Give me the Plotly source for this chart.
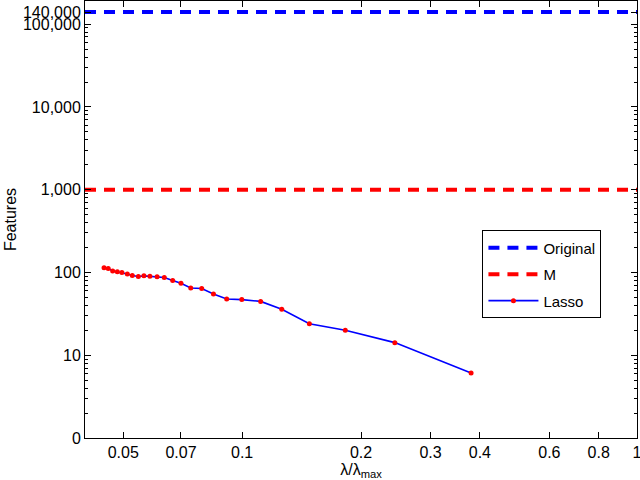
import plotly.graph_objects as go
import numpy as np

# Data
lam_ratio = [0.0447, 0.0458, 0.0470, 0.0483, 0.0496, 0.0512, 0.0527, 0.0546, 0.0564,
             0.0584, 0.0609, 0.0635, 0.0667, 0.0700, 0.0741, 0.0790, 0.0846, 0.0914,
             0.0998, 0.1114, 0.126, 0.148, 0.1825, 0.2436, 0.380]
lasso_features = [114, 112, 104, 102, 100, 96, 92, 89.5, 91,
                  90, 89, 87, 80, 74, 65, 64, 55, 47.7,
                  47, 44.7, 36, 24, 20, 14.2, 6.1]
original_features = 140000
m_features = 1000
x_limits = [0.04, 1.0]

x_tickvals = [0.05, 0.07, 0.1, 0.2, 0.3, 0.4, 0.6, 0.8, 1]
x_ticktext = ["0.05", "0.07", "0.1", "0.2", "0.3", "0.4", "0.6", "0.8", "1"]
y_tickvals = [1, 10, 100, 1000, 10000, 100000, 140000]
y_ticktext = ["0", "10", "100", "1,000", "10,000", "100,000", "140,000"]
y_minor = [m * 10 ** e for e in range(0, 6) for m in range(2, 10) if m * 10 ** e < 200000]

font = "Liberation Sans, Arial, Helvetica, sans-serif"

fig = go.Figure()
fig.add_trace(go.Scatter(x=x_limits, y=[original_features] * 2, mode="lines", name="Original",
                         line=dict(color="#0000ff", width=4, dash="11px,8px"), legendgroup="a"))
fig.add_trace(go.Scatter(x=x_limits, y=[m_features] * 2, mode="lines", name="M",
                         line=dict(color="#ff0000", width=4, dash="11px,8px"), legendgroup="b"))
fig.add_trace(go.Scatter(x=lam_ratio, y=lasso_features, mode="lines+markers", name="Lasso",
                         line=dict(color="#0000ff", width=1.6),
                         marker=dict(color="#ff0000", size=5, symbol="circle"), legendgroup="c"))

axis_common = dict(showline=True, linecolor="black", linewidth=1, mirror="ticks",
                   ticks="inside", ticklen=6, tickcolor="black", tickwidth=1,
                   showgrid=False, zeroline=False, automargin=False,
                   ticklabeloverflow="allow",
                   tickfont=dict(family=font, size=16, color="black"))

fig.update_xaxes(type="log", range=[np.log10(x_limits[0]), np.log10(x_limits[1])],
                 tickmode="array", tickvals=x_tickvals, ticktext=x_ticktext,
                 title=dict(text="λ/λ<sub>max</sub>", font=dict(family=font, size=16, color="black"),
                            standoff=0),
                 **axis_common)
fig.update_yaxes(type="log", range=[0, 5.28],
                 tickmode="array", tickvals=y_tickvals, ticktext=y_ticktext,
                 minor=dict(tickmode="array", tickvals=y_minor, ticks="inside", ticklen=3,
                            tickcolor="black", tickwidth=1, showgrid=False),
                 title=dict(text="Features", font=dict(family=font, size=16, color="black"),
                            standoff=2),
                 **axis_common)

fig.update_layout(
    width=640, height=480,
    margin=dict(l=85, r=3, t=1, b=42, autoexpand=False),
    plot_bgcolor="white", paper_bgcolor="white",
    font=dict(family=font, size=16, color="black"),
    legend=dict(x=0.72, y=0.475, xanchor="left", yanchor="top",
                bgcolor="white", bordercolor="black", borderwidth=1,
                font=dict(family=font, size=15, color="black"),
                itemwidth=50, tracegroupgap=4, traceorder="grouped"),
    showlegend=True,
)

fig.write_html("out.html", config={"displayModeBar": False},
               post_script="document.body.style.margin='0';document.body.style.overflow='hidden';")
